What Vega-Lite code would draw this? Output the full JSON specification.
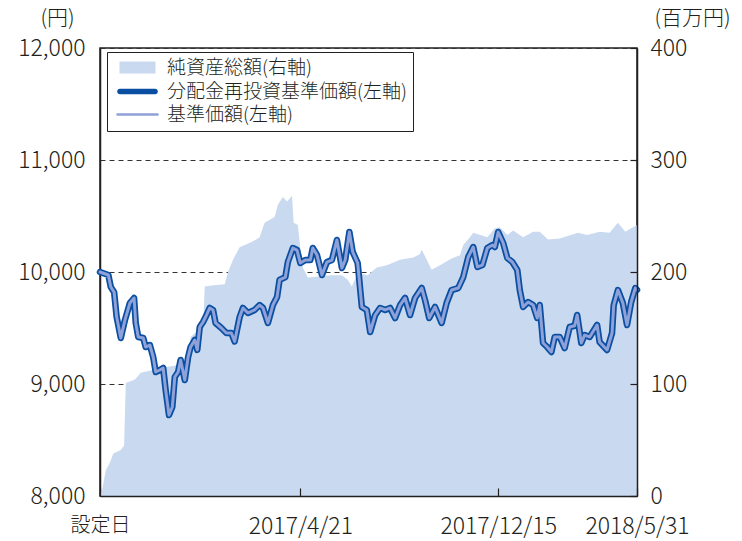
{
  "$schema": "https://vega.github.io/schema/vega-lite/v6.json",
  "width": 537,
  "height": 448,
  "autosize": {"type": "none"},
  "padding": {"left": 100, "top": 48, "right": 105, "bottom": 45},
  "background": "white",
  "config": {
    "font": "Noto Sans CJK JP",
    "view": {"stroke": "#231f20", "strokeWidth": 1.5},
    "axis": {
      "labelFont": "Noto Sans CJK JP",
      "labelFontSize": 23,
      "labelFontWeight": 300,
      "labelColor": "#231f20",
      "titleFont": "Noto Sans CJK JP",
      "titleFontSize": 21,
      "titleFontWeight": 300,
      "titleColor": "#231f20",
      "domain": false,
      "ticks": false,
      "grid": false
    },
    "legend": {
      "labelFont": "Noto Sans CJK JP",
      "labelFontSize": 19,
      "labelFontWeight": 300,
      "labelColor": "#231f20",
      "labelLimit": 0
    }
  },
  "datasets": {
    "nav": [
      {"date": "2016/08/23", "nav": 0},
      {"date": "2016/08/25", "nav": 3},
      {"date": "2016/08/28", "nav": 15},
      {"date": "2016/08/30", "nav": 23},
      {"date": "2016/09/04", "nav": 30},
      {"date": "2016/09/08", "nav": 38},
      {"date": "2016/09/17", "nav": 41},
      {"date": "2016/09/21", "nav": 45},
      {"date": "2016/09/23", "nav": 101},
      {"date": "2016/10/04", "nav": 104},
      {"date": "2016/10/11", "nav": 110},
      {"date": "2016/11/09", "nav": 115},
      {"date": "2016/11/25", "nav": 117},
      {"date": "2016/12/07", "nav": 120},
      {"date": "2016/12/10", "nav": 142},
      {"date": "2016/12/19", "nav": 148},
      {"date": "2016/12/25", "nav": 150},
      {"date": "2016/12/27", "nav": 187},
      {"date": "2017/01/04", "nav": 188},
      {"date": "2017/01/20", "nav": 189},
      {"date": "2017/01/24", "nav": 200},
      {"date": "2017/01/30", "nav": 211},
      {"date": "2017/02/07", "nav": 222},
      {"date": "2017/02/22", "nav": 227},
      {"date": "2017/03/03", "nav": 231},
      {"date": "2017/03/09", "nav": 244},
      {"date": "2017/03/21", "nav": 249},
      {"date": "2017/03/25", "nav": 260},
      {"date": "2017/03/31", "nav": 267},
      {"date": "2017/04/05", "nav": 263},
      {"date": "2017/04/11", "nav": 268},
      {"date": "2017/04/13", "nav": 244},
      {"date": "2017/04/18", "nav": 242},
      {"date": "2017/04/21", "nav": 221},
      {"date": "2017/04/24", "nav": 204},
      {"date": "2017/04/30", "nav": 195},
      {"date": "2017/05/12", "nav": 196},
      {"date": "2017/05/29", "nav": 197},
      {"date": "2017/06/10", "nav": 197},
      {"date": "2017/06/17", "nav": 193},
      {"date": "2017/06/22", "nav": 187},
      {"date": "2017/06/29", "nav": 199},
      {"date": "2017/07/11", "nav": 197},
      {"date": "2017/07/22", "nav": 204},
      {"date": "2017/08/03", "nav": 206},
      {"date": "2017/08/19", "nav": 211},
      {"date": "2017/09/04", "nav": 213},
      {"date": "2017/09/12", "nav": 216},
      {"date": "2017/09/14", "nav": 220},
      {"date": "2017/09/18", "nav": 214},
      {"date": "2017/09/26", "nav": 202},
      {"date": "2017/10/06", "nav": 206},
      {"date": "2017/10/20", "nav": 212},
      {"date": "2017/10/30", "nav": 215},
      {"date": "2017/11/03", "nav": 224},
      {"date": "2017/11/11", "nav": 231},
      {"date": "2017/11/15", "nav": 235},
      {"date": "2017/12/02", "nav": 231},
      {"date": "2017/12/11", "nav": 239},
      {"date": "2017/12/17", "nav": 240},
      {"date": "2017/12/26", "nav": 233},
      {"date": "2018/01/02", "nav": 237},
      {"date": "2018/01/14", "nav": 231},
      {"date": "2018/01/26", "nav": 236},
      {"date": "2018/02/03", "nav": 236},
      {"date": "2018/02/13", "nav": 229},
      {"date": "2018/02/27", "nav": 230},
      {"date": "2018/03/21", "nav": 235},
      {"date": "2018/04/01", "nav": 233},
      {"date": "2018/04/16", "nav": 236},
      {"date": "2018/04/28", "nav": 235},
      {"date": "2018/05/08", "nav": 244},
      {"date": "2018/05/17", "nav": 236},
      {"date": "2018/05/24", "nav": 239},
      {"date": "2018/05/31", "nav": 242}
    ],
    "price": [
      {"date": "2016/08/23", "v": 10000},
      {"date": "2016/09/02", "v": 9973},
      {"date": "2016/09/05", "v": 9866},
      {"date": "2016/09/09", "v": 9820},
      {"date": "2016/09/12", "v": 9600},
      {"date": "2016/09/17", "v": 9411},
      {"date": "2016/09/22", "v": 9571},
      {"date": "2016/09/28", "v": 9723},
      {"date": "2016/10/03", "v": 9768},
      {"date": "2016/10/05", "v": 9545},
      {"date": "2016/10/08", "v": 9420},
      {"date": "2016/10/14", "v": 9411},
      {"date": "2016/10/17", "v": 9330},
      {"date": "2016/10/22", "v": 9348},
      {"date": "2016/10/26", "v": 9241},
      {"date": "2016/10/29", "v": 9107},
      {"date": "2016/11/03", "v": 9125},
      {"date": "2016/11/07", "v": 9143},
      {"date": "2016/11/10", "v": 8946},
      {"date": "2016/11/14", "v": 8723},
      {"date": "2016/11/18", "v": 8795},
      {"date": "2016/11/21", "v": 9063},
      {"date": "2016/11/25", "v": 9107},
      {"date": "2016/11/28", "v": 9214},
      {"date": "2016/12/03", "v": 9036},
      {"date": "2016/12/07", "v": 9241},
      {"date": "2016/12/10", "v": 9330},
      {"date": "2016/12/15", "v": 9393},
      {"date": "2016/12/18", "v": 9304},
      {"date": "2016/12/21", "v": 9509},
      {"date": "2016/12/25", "v": 9554},
      {"date": "2016/12/28", "v": 9598},
      {"date": "2017/01/02", "v": 9679},
      {"date": "2017/01/06", "v": 9661},
      {"date": "2017/01/09", "v": 9545},
      {"date": "2017/01/16", "v": 9500},
      {"date": "2017/01/22", "v": 9455},
      {"date": "2017/01/28", "v": 9455},
      {"date": "2017/02/01", "v": 9380},
      {"date": "2017/02/07", "v": 9598},
      {"date": "2017/02/11", "v": 9679},
      {"date": "2017/02/17", "v": 9634},
      {"date": "2017/02/25", "v": 9661},
      {"date": "2017/03/03", "v": 9705},
      {"date": "2017/03/07", "v": 9680},
      {"date": "2017/03/13", "v": 9545},
      {"date": "2017/03/19", "v": 9705},
      {"date": "2017/03/24", "v": 9777},
      {"date": "2017/03/27", "v": 9929},
      {"date": "2017/04/03", "v": 9955},
      {"date": "2017/04/06", "v": 10089},
      {"date": "2017/04/12", "v": 10214},
      {"date": "2017/04/17", "v": 10196},
      {"date": "2017/04/21", "v": 10080},
      {"date": "2017/04/27", "v": 10107},
      {"date": "2017/05/03", "v": 10107},
      {"date": "2017/05/06", "v": 10214},
      {"date": "2017/05/11", "v": 10152},
      {"date": "2017/05/17", "v": 9973},
      {"date": "2017/05/23", "v": 10089},
      {"date": "2017/05/29", "v": 10107},
      {"date": "2017/06/04", "v": 10286},
      {"date": "2017/06/10", "v": 10036},
      {"date": "2017/06/14", "v": 10107},
      {"date": "2017/06/19", "v": 10357},
      {"date": "2017/06/23", "v": 10179},
      {"date": "2017/06/29", "v": 10080},
      {"date": "2017/07/04", "v": 9688},
      {"date": "2017/07/10", "v": 9661},
      {"date": "2017/07/14", "v": 9464},
      {"date": "2017/07/20", "v": 9616},
      {"date": "2017/07/26", "v": 9679},
      {"date": "2017/08/01", "v": 9661},
      {"date": "2017/08/07", "v": 9679},
      {"date": "2017/08/13", "v": 9589},
      {"date": "2017/08/19", "v": 9705},
      {"date": "2017/08/25", "v": 9768},
      {"date": "2017/08/31", "v": 9616},
      {"date": "2017/09/06", "v": 9768},
      {"date": "2017/09/14", "v": 9857},
      {"date": "2017/09/18", "v": 9750},
      {"date": "2017/09/23", "v": 9589},
      {"date": "2017/09/30", "v": 9688},
      {"date": "2017/10/08", "v": 9545},
      {"date": "2017/10/14", "v": 9723},
      {"date": "2017/10/20", "v": 9839},
      {"date": "2017/10/28", "v": 9857},
      {"date": "2017/11/03", "v": 9955},
      {"date": "2017/11/09", "v": 10134},
      {"date": "2017/11/15", "v": 10223},
      {"date": "2017/11/20", "v": 10045},
      {"date": "2017/11/26", "v": 10062},
      {"date": "2017/12/02", "v": 10214},
      {"date": "2017/12/08", "v": 10241},
      {"date": "2017/12/11", "v": 10223},
      {"date": "2017/12/15", "v": 10357},
      {"date": "2017/12/21", "v": 10259},
      {"date": "2017/12/26", "v": 10125},
      {"date": "2018/01/01", "v": 10089},
      {"date": "2018/01/07", "v": 10018},
      {"date": "2018/01/10", "v": 9839},
      {"date": "2018/01/14", "v": 9688},
      {"date": "2018/01/20", "v": 9732},
      {"date": "2018/01/26", "v": 9705},
      {"date": "2018/01/31", "v": 9589},
      {"date": "2018/02/03", "v": 9705},
      {"date": "2018/02/07", "v": 9366},
      {"date": "2018/02/12", "v": 9330},
      {"date": "2018/02/17", "v": 9286},
      {"date": "2018/02/21", "v": 9420},
      {"date": "2018/02/27", "v": 9420},
      {"date": "2018/03/05", "v": 9321},
      {"date": "2018/03/11", "v": 9509},
      {"date": "2018/03/17", "v": 9520},
      {"date": "2018/03/20", "v": 9616},
      {"date": "2018/03/25", "v": 9366},
      {"date": "2018/03/29", "v": 9437},
      {"date": "2018/04/04", "v": 9420},
      {"date": "2018/04/13", "v": 9527},
      {"date": "2018/04/16", "v": 9375},
      {"date": "2018/04/25", "v": 9304},
      {"date": "2018/05/01", "v": 9455},
      {"date": "2018/05/03", "v": 9705},
      {"date": "2018/05/08", "v": 9839},
      {"date": "2018/05/14", "v": 9723},
      {"date": "2018/05/19", "v": 9527},
      {"date": "2018/05/24", "v": 9732},
      {"date": "2018/05/29", "v": 9857},
      {"date": "2018/05/31", "v": 9840}
    ]
  },
  "encoding": {
    "x": {
      "field": "date", "type": "temporal",
      "scale": {"domain": [{"year": 2016, "month": 8, "date": 23}, {"year": 2018, "month": 5, "date": 31}]},
      "axis": {
        "title": null,
        "zindex": 1,
        "domain": true, "domainColor": "#231f20", "domainWidth": 1.5,
        "ticks": true, "tickSize": -8, "tickColor": "#231f20", "tickWidth": 1.2,
        "values": [{"year": 2016, "month": 8, "date": 23}, {"year": 2017, "month": 4, "date": 21}, {"year": 2017, "month": 12, "date": 15}, {"year": 2018, "month": 5, "date": 31}],
        "labelExpr": "datum.value < datetime(2016, 8, 1) ? '設定日' : timeFormat(datum.value, '%Y/%-m/%-d')",
        "labelFontSize": {"condition": {"test": "datum.value < datetime(2016, 8, 1)", "value": 20}, "value": 23},
        "labelFlush": false, "labelOverlap": false, "labelBound": false,
        "labelPadding": 27, "labelBaseline": "top"
      }
    }
  },
  "layer": [
    {
      "data": {"name": "nav"},
      "mark": {"type": "area", "opacity": 1, "line": false},
      "encoding": {
        "y": {
          "field": "nav", "type": "quantitative",
          "scale": {"domain": [0, 400]},
          "axis": {
            "orient": "right", "zindex": 1,
            "values": [0, 100, 200, 300, 400],
            "domain": true, "domainColor": "#231f20", "domainWidth": 1.5,
            "ticks": true, "tickSize": -7, "tickColor": "#231f20", "tickWidth": 1.2,
            "labelPadding": 20,
            "title": "(百万円)", "titleAngle": 0, "titleAlign": "center", "titleBaseline": "middle",
            "titleX": 55, "titleY": -30
          }
        },
        "color": {
          "datum": "純資産総額(右軸)", "type": "nominal",
          "scale": {
            "domain": ["純資産総額(右軸)", "分配金再投資基準価額(左軸)", "基準価額(左軸)"],
            "range": ["#c9daf0", "#0b4fa2", "#8ea1d8"]
          },
          "legend": {
            "title": null, "orient": "none", "legendX": 7, "legendY": 4, "direction": "vertical",
            "fillColor": "white", "strokeColor": "#231f20", "padding": 6,
            "symbolSize": 400, "symbolType": "M-0.5,0H3.5", "labelOffset": 35, "rowPadding": 2,
            "encoding": {
              "symbols": {
                "shape": {"value": {"expr": "datum.value === '純資産総額(右軸)' ? 'M-0.3,-0.6H3.3V0.6H-0.3Z' : (datum.value === '分配金再投資基準価額(左軸)' ? 'M-0.25,0H3.25' : 'M-0.5,0H3.5')"}},
                "fill": {"value": {"expr": "datum.value === '純資産総額(右軸)' ? '#c9daf0' : 'transparent'"}},
                "stroke": {"value": {"expr": "datum.value === '純資産総額(右軸)' ? 'transparent' : (datum.value === '分配金再投資基準価額(左軸)' ? '#0b4fa2' : '#8ea1d8')"}},
                "strokeWidth": {"value": {"expr": "datum.value === '純資産総額(右軸)' ? 0 : (datum.value === '分配金再投資基準価額(左軸)' ? 5.5 : 2.5)"}},
                "strokeCap": {"value": "round"},
                "opacity": {"value": 1}
              }
            }
          }
        }
      }
    },
    {
      "data": {"name": "price"},
      "encoding": {
        "y": {
          "field": "v", "type": "quantitative",
          "scale": {"domain": [8000, 12000]},
          "axis": {
            "orient": "left", "zindex": 0,
            "values": [8000, 9000, 10000, 11000, 12000], "format": ",d",
            "grid": true, "gridDash": [5, 4], "gridColor": "#333333", "gridWidth": 1,
            "domain": true, "domainColor": "#231f20", "domainWidth": 1.5,
            "labelPadding": 15,
            "title": "(円)", "titleAngle": 0, "titleAlign": "center", "titleBaseline": "middle",
            "titleX": -43, "titleY": -30
          }
        }
      },
      "layer": [
        {
          "mark": {"type": "line", "strokeWidth": 6.5, "strokeJoin": "round", "strokeCap": "round"},
          "encoding": {
            "color": {
              "datum": "分配金再投資基準価額(左軸)", "type": "nominal",
              "legend": {
                "title": null, "orient": "none", "legendX": 7, "legendY": 4, "direction": "vertical",
                "fillColor": "white", "strokeColor": "#231f20", "padding": 6,
                "symbolSize": 400, "symbolType": "M-0.5,0H3.5", "labelOffset": 35, "rowPadding": 2,
                "encoding": {
                  "symbols": {
                    "shape": {"value": {"expr": "datum.value === '純資産総額(右軸)' ? 'M-0.3,-0.6H3.3V0.6H-0.3Z' : (datum.value === '分配金再投資基準価額(左軸)' ? 'M-0.25,0H3.25' : 'M-0.5,0H3.5')"}},
                    "fill": {"value": {"expr": "datum.value === '純資産総額(右軸)' ? '#c9daf0' : 'transparent'"}},
                    "stroke": {"value": {"expr": "datum.value === '純資産総額(右軸)' ? 'transparent' : (datum.value === '分配金再投資基準価額(左軸)' ? '#0b4fa2' : '#8ea1d8')"}},
                    "strokeWidth": {"value": {"expr": "datum.value === '純資産総額(右軸)' ? 0 : (datum.value === '分配金再投資基準価額(左軸)' ? 5.5 : 2.5)"}},
                    "strokeCap": {"value": "round"},
                    "opacity": {"value": 1}
                  }
                }
              }
            }
          }
        },
        {
          "mark": {"type": "line", "strokeWidth": 3, "strokeJoin": "round", "strokeCap": "round"},
          "encoding": {
            "color": {
              "datum": "基準価額(左軸)", "type": "nominal",
              "legend": {
                "title": null, "orient": "none", "legendX": 7, "legendY": 4, "direction": "vertical",
                "fillColor": "white", "strokeColor": "#231f20", "padding": 6,
                "symbolSize": 400, "symbolType": "M-0.5,0H3.5", "labelOffset": 35, "rowPadding": 2,
                "encoding": {
                  "symbols": {
                    "shape": {"value": {"expr": "datum.value === '純資産総額(右軸)' ? 'M-0.3,-0.6H3.3V0.6H-0.3Z' : (datum.value === '分配金再投資基準価額(左軸)' ? 'M-0.25,0H3.25' : 'M-0.5,0H3.5')"}},
                    "fill": {"value": {"expr": "datum.value === '純資産総額(右軸)' ? '#c9daf0' : 'transparent'"}},
                    "stroke": {"value": {"expr": "datum.value === '純資産総額(右軸)' ? 'transparent' : (datum.value === '分配金再投資基準価額(左軸)' ? '#0b4fa2' : '#8ea1d8')"}},
                    "strokeWidth": {"value": {"expr": "datum.value === '純資産総額(右軸)' ? 0 : (datum.value === '分配金再投資基準価額(左軸)' ? 5.5 : 2.5)"}},
                    "strokeCap": {"value": "round"},
                    "opacity": {"value": 1}
                  }
                }
              }
            }
          }
        }
      ]
    }
  ],
  "resolve": {"scale": {"y": "independent"}}
}
